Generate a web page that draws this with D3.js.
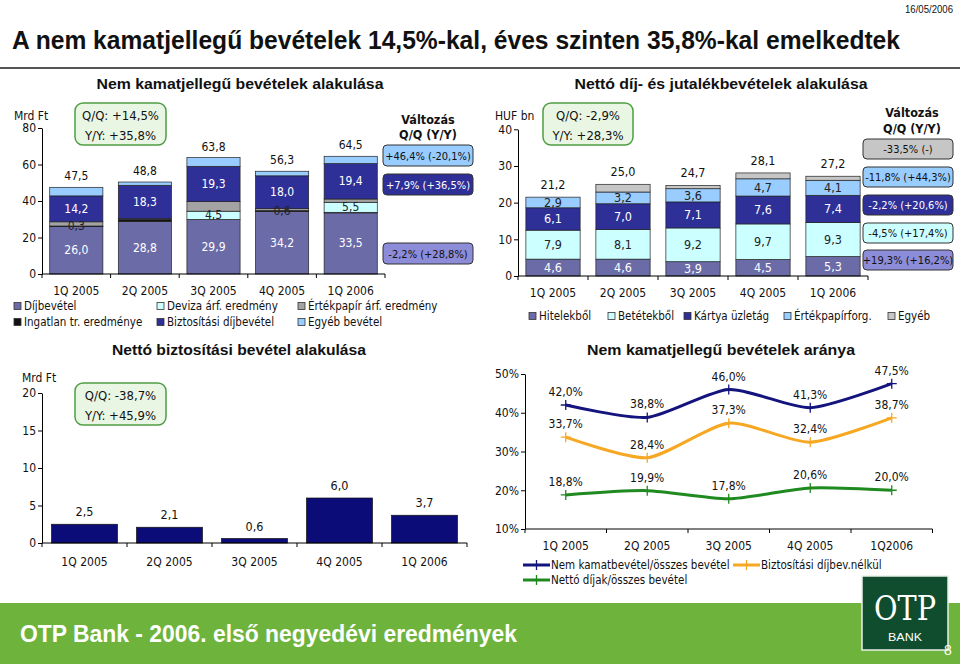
<!DOCTYPE html>
<html><head><meta charset="utf-8">
<script src="https://cdn.jsdelivr.net/npm/d3@7"></script>
<style>body{margin:0;background:#fff} svg{display:block}</style>
</head><body>
<svg id="c" width="960" height="664"></svg>
<script>
// ---------- DATA ----------
const quarters = ["1Q 2005", "2Q 2005", "3Q 2005", "4Q 2005", "1Q 2006"];
const quartersLine = ["1Q 2005", "2Q 2005", "3Q 2005", "4Q 2005", "1Q2006"];

// Chart 1: Nem kamatjellegű bevételek alakulása (Mrd Ft)
const dijbevetel   = [26.0, 28.8, 29.9, 34.2, 33.5];
const ingatlan     = [0.3, 1.2, 0.0, 0.6, 0.3];
const ingatlanShow = [true, false, false, true, false];
const deviza       = [0.0, 0.0, 4.5, 0.0, 5.5];
const ertekpapir   = [2.3, 0.3, 5.3, 1.0, 1.8];
const biztositasi  = [14.2, 18.3, 19.3, 18.0, 19.4];
const egyeb        = [4.7, 1.8, 4.8, 2.5, 4.0];
const totals1      = [47.5, 48.8, 63.8, 56.3, 64.5];
const ticks1       = [0, 20, 40, 60, 80];
const changes1     = ["+46,4% (-20,1%)", "+7,9% (+36,5%)", "-2,2% (+28,8%)"];
const qq1 = ["Q/Q: +14,5%", "Y/Y: +35,8%"];

// Chart 2: Nettó díj- és jutalékbevételek alakulása (HUF bn)
const hitelekbol     = [4.6, 4.6, 3.9, 4.5, 5.3];
const betetekbol     = [7.9, 8.1, 9.2, 9.7, 9.3];
const kartya         = [6.1, 7.0, 7.1, 7.6, 7.4];
const ertekpapirforg = [2.9, 3.2, 3.6, 4.7, 4.1];
const egyeb2         = [0.0, 2.1, 0.9, 1.6, 1.1];
const totals2        = [21.2, 25.0, 24.7, 28.1, 27.2];
const ticks2         = [0, 10, 20, 30, 40];
const changes2 = ["-33,5% (-)", "-11,8% (+44,3%)", "-2,2% (+20,6%)", "-4,5% (+17,4%)", "+19,3% (+16,2%)"];
const qq2 = ["Q/Q: -2,9%", "Y/Y: +28,3%"];

// Chart 3: Nettó biztosítási bevétel alakulása (Mrd Ft)
const biztNetto = [2.5, 2.1, 0.6, 6.0, 3.7];
const ticks3    = [0, 5, 10, 15, 20];
const qq3 = ["Q/Q: -38,7%", "Y/Y: +45,9%"];

// Chart 4: Nem kamatjellegű bevételek aránya (%)
const nemKamat   = [42.0, 38.8, 46.0, 41.3, 47.5];
const biztNelkul = [33.7, 28.4, 37.3, 32.4, 38.7];
const nettoDijak = [18.8, 19.9, 17.8, 20.6, 20.0];
const ticks4     = [10, 20, 30, 40, 50];

// ---------- STYLE ----------
const F = "'DejaVu Sans Condensed','DejaVu Sans',sans-serif";
const FB = "'Liberation Sans',Arial,sans-serif";
const C = {
  purple: "#6b6ba8", navyBar: "#2f2f98", cyan: "#ccffff", gray: "#a3a3a3",
  lblue: "#99ccff", black: "#111", gray2: "#c6c6c6", boxPurple: "#8c8cd8",
  bar3: "#0c0c78", lineNavy: "#14147e", lineOrange: "#f7a823", lineGreen: "#1f8a1f"
};
const fmt = v => d3.format(".1f")(v).replace(".", ",");
const svg = d3.select("#c");
svg.append("rect").attr("width", 960).attr("height", 664).attr("fill", "#fff");

function ctext(g, x, y, s, o = {}) {
  const t = g.append("text").attr("x", x).attr("y", y).text(s)
    .attr("font-family", o.ff || F).attr("font-size", o.fs || 11)
    .attr("fill", o.fill || "#111").attr("text-anchor", o.anchor || "middle");
  if (o.fw) t.attr("font-weight", o.fw);
  if (o.tl) t.attr("textLength", o.tl).attr("lengthAdjust", "spacingAndGlyphs");
  return t;
}

// ---------- HEADER ----------
ctext(svg, 953, 13, "16/05/2006", {anchor: "end", fs: 10.5, ff: FB, tl: 48});
ctext(svg, 12, 49, "A nem kamatjellegű bevételek 14,5%-kal, éves szinten 35,8%-kal emelkedtek",
  {anchor: "start", fs: 26, ff: FB, fw: "bold", tl: 888});
svg.append("line").attr("x1", 0).attr("x2", 960).attr("y1", 68).attr("y2", 68)
  .attr("stroke", "#555").attr("stroke-width", 2);
ctext(svg, 240, 89, "Nem kamatjellegű bevételek alakulása", {fs: 15.5, ff: FB, fw: "bold", tl: 287});
ctext(svg, 721, 89, "Nettó díj- és jutalékbevételek alakulása", {fs: 15.5, ff: FB, fw: "bold", tl: 293});
ctext(svg, 239, 355, "Nettó biztosítási bevétel alakulása", {fs: 15.5, ff: FB, fw: "bold", tl: 254});
ctext(svg, 721, 355, "Nem kamatjellegű bevételek aránya", {fs: 15.5, ff: FB, fw: "bold", tl: 268});

// ---------- helpers ----------
function greenBox(x, y, w, h, lines) {
  svg.append("rect").attr("x", x).attr("y", y).attr("width", w).attr("height", h)
    .attr("rx", 8).attr("fill", "#eaf6e4").attr("stroke", "#4e9e42").attr("stroke-width", 1.5);
  lines.forEach((s, i) => ctext(svg, x + w / 2, y + 17 + i * 19.5, s, {fs: 13}));
}
function yAxis(scale, x, ticks, fmtT) {
  const g = svg.append("g").attr("transform", `translate(${x},0)`)
    .call(d3.axisLeft(scale).tickValues(ticks).tickSize(4).tickSizeOuter(0).tickFormat(fmtT || (d => d)));
  g.select(".domain").attr("stroke", "#000");
  g.selectAll(".tick line").attr("stroke", "#000");
  g.selectAll(".tick text").attr("font-family", F).attr("font-size", 12).attr("fill", "#111").attr("x", -6);
  return g;
}
function xAxis(x0, x1, y, n) {
  const g = svg.append("g");
  g.append("line").attr("x1", x0).attr("x2", x1).attr("y1", y).attr("y2", y).attr("stroke", "#000");
  d3.range(n + 1).forEach(i => {
    const xx = x0 + i * (x1 - x0) / n;
    g.append("line").attr("x1", xx).attr("x2", xx).attr("y1", y).attr("y2", y + 4).attr("stroke", "#000");
  });
}
function changeBox(x, y, w, h, fill, txt, tc) {
  svg.append("rect").attr("x", x).attr("y", y).attr("width", w).attr("height", h)
    .attr("rx", 4).attr("fill", fill).attr("stroke", "#333").attr("stroke-width", 1);
  ctext(svg, x + w / 2, y + h / 2 + 4, txt, {fs: 11, fill: tc});
}
function legendSq(x, y, fill, label) {
  svg.append("rect").attr("x", x).attr("y", y - 3.5).attr("width", 7).attr("height", 7)
    .attr("fill", fill).attr("stroke", "#333").attr("stroke-width", 0.8);
  ctext(svg, x + 10, y + 4, label, {anchor: "start", fs: 11.5});
}

// ---------- CHART 1 ----------
{
  const keys = ["dij", "ing", "dev", "ert", "bizt", "egy"];
  const cols = {dij: C.purple, ing: C.black, dev: C.cyan, ert: C.gray, bizt: C.navyBar, egy: C.lblue};
  const rows = quarters.map((q, i) => ({q, i, dij: dijbevetel[i], ing: ingatlan[i], dev: deviza[i],
    ert: ertekpapir[i], bizt: biztositasi[i], egy: egyeb[i]}));
  const x = d3.scaleBand().domain(quarters).range([42, 385]).paddingInner(0.225).paddingOuter(0.1125);
  const y = d3.scaleLinear().domain([0, 80]).range([274, 128]);
  const stack = d3.stack().keys(keys)(rows);
  const g = svg.append("g");
  stack.forEach(layer => {
    g.selectAll(null).data(layer.filter(d => d[1] - d[0] > 0)).join("rect")
      .attr("x", d => x(d.data.q)).attr("width", x.bandwidth())
      .attr("y", d => y(d[1])).attr("height", d => y(d[0]) - y(d[1]))
      .attr("fill", cols[layer.key]).attr("stroke", "#222").attr("stroke-width", 0.7);
  });
  const lab = {dij: "#fff", ing: "#222", dev: "#222", bizt: "#fff"};
  stack.forEach(layer => {
    if (!lab[layer.key]) return;
    layer.forEach(d => {
      const v = d[1] - d[0];
      if (v <= 0) return;
      if (layer.key === "ing" && !ingatlanShow[d.data.i]) return;
      ctext(g, x(d.data.q) + x.bandwidth() / 2, (y(d[0]) + y(d[1])) / 2 + 4, fmt(v), {fs: 12, fill: lab[layer.key]});
    });
  });
  rows.forEach(r => {
    const top = d3.max(stack, l => l[r.i][1]);
    ctext(g, x(r.q) + x.bandwidth() / 2, y(top) - 7, fmt(totals1[r.i]), {fs: 12});
    ctext(g, x(r.q) + x.bandwidth() / 2, 295, r.q, {fs: 12});
  });
  yAxis(y, 42, ticks1);
  xAxis(42, 385, 274, 5);
  ctext(svg, 14, 120, "Mrd Ft", {anchor: "start", fs: 12});
  greenBox(75, 103, 91, 42, qq1);
  ctext(svg, 428, 124, "Változás", {fs: 12.5, fw: "bold"});
  ctext(svg, 428, 139, "Q/Q (Y/Y)", {fs: 12.5, fw: "bold"});
  changeBox(383, 145, 90, 21, C.lblue, changes1[0], "#111");
  changeBox(383, 174, 90, 21, C.navyBar, changes1[1], "#fff");
  changeBox(383, 243, 90, 21, C.boxPurple, changes1[2], "#111");
  legendSq(14, 306, C.purple, "Díjbevétel");
  legendSq(157, 306, C.cyan, "Deviza árf. eredmény");
  legendSq(298, 306, C.gray, "Értékpapír árf. eredmény");
  legendSq(14, 322, C.black, "Ingatlan tr. eredménye");
  legendSq(157, 322, C.navyBar, "Biztosítási díjbevétel");
  legendSq(298, 322, C.lblue, "Egyéb bevétel");
}

// ---------- CHART 2 ----------
{
  const keys = ["hit", "bet", "kar", "ert", "egy"];
  const cols = {hit: C.purple, bet: C.cyan, kar: C.navyBar, ert: C.lblue, egy: C.gray2};
  const rows = quarters.map((q, i) => ({q, i, hit: hitelekbol[i], bet: betetekbol[i], kar: kartya[i],
    ert: ertekpapirforg[i], egy: egyeb2[i]}));
  const x = d3.scaleBand().domain(quarters).range([518, 868]).paddingInner(0.225).paddingOuter(0.1125);
  const y = d3.scaleLinear().domain([0, 40]).range([276, 129.3]);
  const stack = d3.stack().keys(keys)(rows);
  const g = svg.append("g");
  stack.forEach(layer => {
    g.selectAll(null).data(layer.filter(d => d[1] - d[0] > 0)).join("rect")
      .attr("x", d => x(d.data.q)).attr("width", x.bandwidth())
      .attr("y", d => y(d[1])).attr("height", d => y(d[0]) - y(d[1]))
      .attr("fill", cols[layer.key]).attr("stroke", "#222").attr("stroke-width", 0.7);
  });
  const lab = {hit: "#fff", bet: "#222", kar: "#fff", ert: "#222"};
  stack.forEach(layer => {
    if (!lab[layer.key]) return;
    layer.forEach(d => {
      const v = d[1] - d[0];
      if (v <= 0) return;
      ctext(g, x(d.data.q) + x.bandwidth() / 2, (y(d[0]) + y(d[1])) / 2 + 4.5, fmt(v), {fs: 12.5, fill: lab[layer.key]});
    });
  });
  rows.forEach(r => {
    const top = d3.max(stack, l => l[r.i][1]);
    ctext(g, x(r.q) + x.bandwidth() / 2, y(top) - 8, fmt(totals2[r.i]), {fs: 12.5});
    ctext(g, x(r.q) + x.bandwidth() / 2, 297, r.q, {fs: 12});
  });
  yAxis(y, 518, ticks2);
  xAxis(518, 868, 276, 5);
  ctext(svg, 495, 120, "HUF bn", {anchor: "start", fs: 12});
  greenBox(543, 103, 90, 42, qq2);
  ctext(svg, 912, 116.5, "Változás", {fs: 12.5, fw: "bold"});
  ctext(svg, 912, 132.5, "Q/Q (Y/Y)", {fs: 12.5, fw: "bold"});
  const bc = [[C.gray2, "#111"], [C.lblue, "#111"], [C.navyBar, "#fff"], [C.cyan, "#111"], [C.boxPurple, "#111"]];
  const by = [139, 167, 195, 223, 250];
  changes2.forEach((s, i) => changeBox(863, by[i], 90, 20, bc[i][0], s, bc[i][1]));
  legendSq(529, 316, C.purple, "Hitelekből");
  legendSq(608, 316, C.cyan, "Betétekből");
  legendSq(684, 316, C.navyBar, "Kártya üzletág");
  legendSq(784, 316, C.lblue, "Értékpapírforg.");
  legendSq(888, 316, C.gray2, "Egyéb");
}

// ---------- CHART 3 ----------
{
  const x = d3.scaleBand().domain(quarters).range([42, 467]).paddingInner(0.224).paddingOuter(0.112);
  const y = d3.scaleLinear().domain([0, 20]).range([543, 393]);
  const g = svg.append("g");
  g.selectAll("rect").data(biztNetto).join("rect")
    .attr("x", (d, i) => x(quarters[i])).attr("width", x.bandwidth())
    .attr("y", d => y(d)).attr("height", d => y(0) - y(d))
    .attr("fill", C.bar3).attr("stroke", "#111").attr("stroke-width", 0.7);
  biztNetto.forEach((v, i) => {
    ctext(g, x(quarters[i]) + x.bandwidth() / 2, y(v) - 8, fmt(v), {fs: 12.5});
    ctext(g, x(quarters[i]) + x.bandwidth() / 2, 566, quarters[i], {fs: 12});
  });
  yAxis(y, 42, ticks3);
  xAxis(42, 467, 543, 5);
  ctext(svg, 22, 382, "Mrd Ft", {anchor: "start", fs: 12});
  greenBox(75, 383, 91, 42, qq3);
}

// ---------- CHART 4 ----------
{
  const x = d3.scalePoint().domain(quartersLine).range([525, 932.5]).padding(0.5);
  const y = d3.scaleLinear().domain([10, 50]).range([529, 374]);
  const series = [
    {vals: nemKamat, col: C.lineNavy},
    {vals: biztNelkul, col: C.lineOrange},
    {vals: nettoDijak, col: C.lineGreen}
  ];
  yAxis(y, 525, ticks4, d => d + "%");
  xAxis(525, 932.5, 529, 5);
  const line = d3.line().x((d, i) => x(quartersLine[i])).y(d => y(d)).curve(d3.curveCardinal.tension(0.3));
  const g = svg.append("g");
  series.forEach(s => {
    g.append("path").attr("d", line(s.vals)).attr("fill", "none").attr("stroke", s.col).attr("stroke-width", 3);
    s.vals.forEach((v, i) => {
      const px = x(quartersLine[i]), py = y(v);
      g.append("path").attr("d", `M${px - 5},${py}H${px + 5}M${px},${py - 5}V${py + 5}`)
        .attr("stroke", s.col).attr("stroke-width", 1.3);
      ctext(g, px, py - 9, fmt(v) + "%", {fs: 12});
    });
  });
  quartersLine.forEach(q => ctext(g, x(q), 550, q, {fs: 12}));
  function legLine(x0, yy, col, label) {
    svg.append("line").attr("x1", x0).attr("x2", x0 + 27).attr("y1", yy).attr("y2", yy).attr("stroke", col).attr("stroke-width", 3);
    svg.append("path").attr("d", `M${x0 + 8.5},${yy}H${x0 + 18.5}M${x0 + 13.5},${yy - 5}V${yy + 5}`).attr("stroke", col).attr("stroke-width", 1.3);
    ctext(svg, x0 + 28, yy + 4, label, {anchor: "start", fs: 11.5});
  }
  legLine(523, 565, C.lineNavy, "Nem kamatbevétel/összes bevétel");
  legLine(733, 565, C.lineOrange, "Biztosítási díjbev.nélkül");
  legLine(523, 580, C.lineGreen, "Nettó díjak/összes bevétel");
}

// ---------- FOOTER ----------
svg.append("rect").attr("x", 0).attr("y", 603).attr("width", 960).attr("height", 61).attr("fill", "#6eb43c");
ctext(svg, 20, 642, "OTP Bank - 2006. első negyedévi  eredmények", {anchor: "start", fs: 23, ff: FB, fw: "bold", fill: "#fff", tl: 497});
svg.append("rect").attr("x", 862).attr("y", 576).attr("width", 86).attr("height", 74)
  .attr("fill", "#0f4d2e").attr("stroke", "#e8efe8").attr("stroke-width", 1.5);
ctext(svg, 905, 620, "OTP", {fs: 34, ff: "'DejaVu Serif',serif", fill: "#fff", tl: 62});
ctext(svg, 905, 641, "BANK", {fs: 11, ff: FB, fill: "#fff", tl: 34});
ctext(svg, 948, 655, "8", {anchor: "middle", fs: 14, ff: FB, fill: "#fff"});
</script>
</body></html>
